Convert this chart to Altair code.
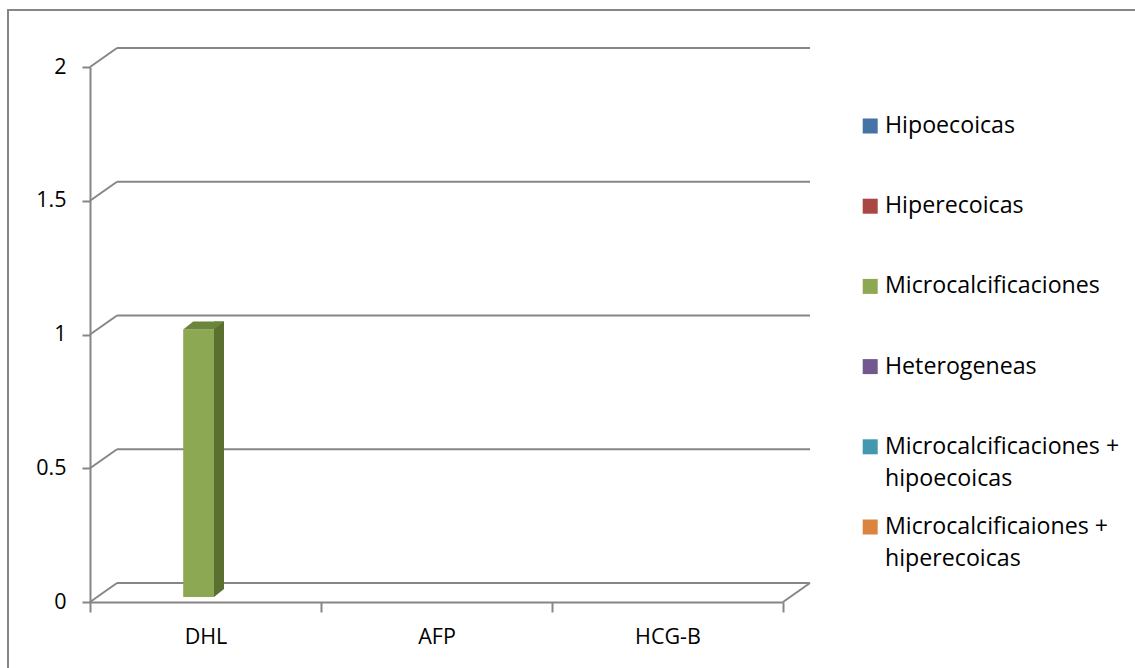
import altair as alt
import pandas as pd

categories = ["DHL", "AFP", "HCG-B"]
series = [
    "Hipoecoicas",
    "Hiperecoicas",
    "Microcalcificaciones",
    "Heterogeneas",
    "Microcalcificaciones + hipoecoicas",
    "Microcalcificaiones + hiperecoicas",
]
legend_line1 = ["Hipoecoicas", "Hiperecoicas", "Microcalcificaciones", "Heterogeneas",
                "Microcalcificaciones +", "Microcalcificaiones +"]
legend_line2 = ["", "", "", "", "hipoecoicas", "hiperecoicas"]
values_dhl = [0, 0, 1, 0, 0, 0]
values_afp = [0, 0, 0, 0, 0, 0]
values_hcgb = [0, 0, 0, 0, 0, 0]
colors = ["#4572A7", "#AA4643", "#8CA852", "#71588F", "#4198AF", "#DB843D"]
y_ticks = [0, 0.5, 1, 1.5, 2]

rows = []
for cat, vals in zip(categories, [values_dhl, values_afp, values_hcgb]):
    for s, v in zip(series, vals):
        rows.append({"category": cat, "series": s, "value": v})
bars_df = pd.DataFrame(rows)
grid_df = pd.DataFrame({"value": y_ticks})
floor_df = pd.DataFrame({"value": [0]})
legend_df = pd.DataFrame({"series": series, "line1": legend_line1, "line2": legend_line2,
                          "row": list(range(len(series)))})

W, H = 693, 535
BAND = W / len(categories)
DX, DY = 27, -19
FONT = "Open Sans"
GRAY = "#868686"
SIDE = "#5B6F30"
TOP = "#6B863B"

color_enc = alt.Color("series:N", scale=alt.Scale(domain=series, range=colors), legend=None)
y_axis = alt.Axis(values=y_ticks, title=None, grid=False, labelExpr="toString(datum.value)",
                  labelFont=FONT, labelFontSize=21.5, labelColor="black", labelPadding=16,
                  domainColor=GRAY, domainWidth=2, tickColor=GRAY, tickWidth=2, tickSize=8)
y_scale = alt.Scale(domain=[0, 2], nice=False, zero=True)
x_enc = alt.X("category:N", sort=categories,
              scale=alt.Scale(paddingInner=0, paddingOuter=0),
              axis=alt.Axis(title=None, labelAngle=0, labelFont=FONT, labelFontSize=21.5,
                            labelColor="black", labelBaseline="middle", labelPadding=25,
                            tickBand="extent", tickSize=10, tickColor=GRAY, tickWidth=2,
                            domainColor=GRAY, domainWidth=2, grid=False))


def xoff(shift):
    return alt.XOffset("series:N", sort=series,
                       scale=alt.Scale(paddingInner=0, paddingOuter=0.75,
                                       range=[shift, BAND + shift]))


border = alt.Chart(pd.DataFrame({"a": [0]})).mark_rect(
    fillOpacity=0, stroke=GRAY, strokeWidth=2
).encode(x=alt.value(-82), x2=alt.value(1060), y=alt.value(-57), y2=alt.value(620))

grid_back = alt.Chart(grid_df).mark_rule(
    color=GRAY, strokeWidth=2, xOffset=DX, x2Offset=DX, yOffset=DY
).encode(y=alt.Y("value:Q", scale=y_scale, axis=y_axis), x=alt.value(0), x2=alt.value(W))

grid_diag = alt.Chart(grid_df).mark_rule(
    color=GRAY, strokeWidth=2, x2Offset=DX, y2Offset=DY
).encode(y=alt.Y("value:Q", scale=y_scale, axis=y_axis), y2="value:Q",
         x=alt.value(0), x2=alt.value(0))

floor_right = alt.Chart(floor_df).mark_rule(
    color=GRAY, strokeWidth=2, x2Offset=DX, y2Offset=DY
).encode(y=alt.Y("value:Q", scale=y_scale, axis=y_axis), y2="value:Q",
         x=alt.value(W), x2=alt.value(W))

# front face (shifted to mid-depth)
front = alt.Chart(bars_df).mark_bar(yOffset=-5, y2Offset=-5).encode(
    x=x_enc, xOffset=xoff(8.5),
    y=alt.Y("value:Q", scale=y_scale, axis=y_axis), color=color_enc)

# side face
side = alt.Chart(bars_df).transform_filter("datum.value > 0").mark_bar(
    width=10, yOffset=-13, y2Offset=-13, color=SIDE
).encode(x=x_enc, xOffset=xoff(13.5), y=alt.Y("value:Q", scale=y_scale, axis=y_axis))

bottom_tri = alt.Chart(bars_df).transform_filter("datum.value > 0").transform_calculate(
    zero="0"
).mark_point(
    shape="M23.9,0 L23.9,-8 L33.9,-8 Z", size=4, filled=True, opacity=1, strokeWidth=0,
    fill=SIDE, yOffset=-5
).encode(x=x_enc, xOffset=xoff(-15.4), y=alt.Y("zero:Q", scale=y_scale, axis=y_axis))

top_face = alt.Chart(bars_df).transform_filter("datum.value > 0").mark_point(
    shape="M-6.9,0 L23.9,0 L33.9,-8 L3.1,-8 Z", size=4, filled=True, opacity=1,
    strokeWidth=0, fill=TOP, yOffset=-5
).encode(x=x_enc, xOffset=xoff(-15.4), y=alt.Y("value:Q", scale=y_scale, axis=y_axis))

main = alt.layer(border, grid_back, grid_diag, floor_right, front, side, bottom_tri,
                 top_face).resolve_scale(xOffset="independent")

leg_y = alt.Y("row:Q", scale=alt.Scale(domain=[0, 5], range=[59, 460]), axis=None)
leg_sq = alt.Chart(legend_df).mark_square(size=225, opacity=1).encode(
    x=alt.value(780.2), y=leg_y, color=color_enc)
leg_t1 = alt.Chart(legend_df).mark_text(
    align="left", baseline="middle", font=FONT, fontSize=23.2, color="black"
).encode(x=alt.value(795), y=leg_y, text="line1:N")
leg_t2 = alt.Chart(legend_df).transform_filter("datum.line2 != ''").mark_text(
    align="left", baseline="middle", font=FONT, fontSize=23.2, color="black", yOffset=32
).encode(x=alt.value(795), y=leg_y, text="line2:N")

legend = alt.layer(leg_sq, leg_t1, leg_t2)

chart = alt.layer(main, legend).resolve_scale(y="independent").properties(
    width=W, height=H,
    padding={"left": 90, "top": 67, "right": 352, "bottom": 66},
    autosize=alt.AutoSizeParams(type="none"),
    background="white",
).configure_view(stroke=None)

chart.save("out.html", embed_options={"renderer": "svg", "actions": False})
